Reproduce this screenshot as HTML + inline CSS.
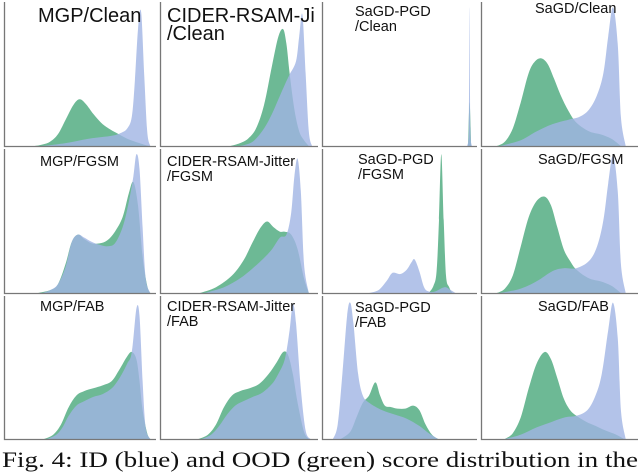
<!DOCTYPE html>
<html><head><meta charset="utf-8"><style>
html,body{margin:0;padding:0;background:#fff;width:640px;height:473px;overflow:hidden}
svg{display:block}
text{font-family:"Liberation Sans",Arial,sans-serif;fill:#111}
</style></head><body>
<svg id="chart" width="640" height="473" viewBox="0 0 640 473"></svg>
<script>
// Panel data: x = normalized score (0..1), y = normalized density (0..1)
const panelTitles = [["MGP/Clean"],["CIDER-RSAM-Ji","/Clean"],["SaGD-PGD","/Clean"],["SaGD/Clean"],
  ["MGP/FGSM"],["CIDER-RSAM-Jitter","/FGSM"],["SaGD-PGD","/FGSM"],["SaGD/FGSM"],
  ["MGP/FAB"],["CIDER-RSAM-Jitter","/FAB"],["SaGD-PGD","/FAB"],["SaGD/FAB"]];
const greenX = [
 [.2,.25,.3,.35,.4,.45,.49,.53,.58,.63,.68,.73,.8,.88,.94],
 [.44,.5,.55,.6,.65,.7,.74,.77,.79,.81,.84,.87,.9,.93],
 [.93,.94,.95],
 [.1,.15,.2,.25,.3,.34,.38,.42,.46,.5,.55,.6,.68,.75,.82,.88],
 [.22,.3,.35,.4,.44,.48,.52,.57,.62,.67,.72,.77,.81,.84,.87,.9,.93,.95],
 [.25,.35,.45,.52,.58,.63,.67,.71,.75,.78,.82,.86,.9,.93],
 [.68,.71,.73,.745,.76,.775,.79,.81,.83],
 [.1,.15,.2,.25,.3,.35,.4,.44,.48,.52,.56,.6,.68,.75,.82,.88],
 [.26,.32,.37,.42,.47,.52,.58,.64,.7,.75,.8,.83,.86,.88,.9,.93,.95],
 [.24,.3,.35,.4,.45,.5,.56,.62,.68,.73,.77,.8,.83,.86,.9,.93],
 [.12,.18,.22,.26,.3,.34,.37,.4,.44,.48,.53,.58,.62,.66,.7,.74],
 [.15,.2,.25,.3,.35,.4,.44,.48,.52,.56,.6,.66,.72,.78,.85,.9]];
const greenY = [
 [0,.01,.03,.08,.18,.28,.32,.29,.22,.16,.12,.09,.05,.02,0],
 [0,.02,.05,.12,.28,.55,.75,.8,.7,.5,.25,.1,.04,0],
 [0,.3,0],
 [0,.03,.12,.3,.5,.58,.6,.56,.46,.35,.24,.16,.1,.08,.05,0],
 [0,.02,.06,.2,.35,.4,.37,.34,.34,.36,.42,.52,.68,.76,.6,.25,.05,0],
 [0,.04,.12,.22,.35,.45,.49,.45,.42,.42,.4,.3,.1,0],
 [0,.05,.15,.5,.95,.5,.12,.04,0],
 [0,.03,.12,.32,.52,.63,.66,.6,.45,.3,.22,.16,.1,.08,.05,0],
 [0,.03,.1,.22,.3,.33,.35,.37,.4,.48,.57,.6,.55,.4,.2,.04,0],
 [0,.03,.1,.22,.3,.33,.35,.38,.45,.53,.6,.58,.45,.25,.05,0],
 [0,.05,.15,.25,.3,.39,.3,.23,.22,.21,.21,.23,.2,.1,.03,0],
 [0,.04,.15,.35,.52,.6,.55,.42,.28,.2,.16,.12,.09,.06,.03,0]];
const blueX = [
 [.25,.4,.55,.7,.76,.8,.83,.85,.87,.89,.91,.93,.95],
 [.5,.58,.65,.7,.74,.78,.81,.85,.87,.89,.91,.93,.95],
 [.925,.935,.94,.945,.955],
 [.12,.25,.35,.45,.55,.62,.68,.73,.77,.8,.83,.86,.88,.91],
 [.25,.3,.35,.4,.44,.48,.52,.57,.62,.67,.72,.77,.81,.84,.86,.88,.9,.92,.95],
 [.28,.4,.5,.58,.65,.7,.75,.79,.82,.84,.86,.88,.9,.93],
 [.3,.36,.41,.44,.46,.5,.54,.57,.59,.62,.65,.68,.72,.78,.82,.85],
 [.12,.25,.35,.45,.52,.6,.68,.73,.77,.8,.83,.86,.88,.91],
 [.28,.34,.38,.42,.47,.52,.58,.64,.7,.75,.8,.83,.86,.88,.9,.92,.95],
 [.26,.32,.37,.42,.47,.52,.58,.64,.7,.74,.78,.81,.83,.85,.88,.91,.94],
 [.07,.1,.13,.16,.18,.2,.23,.26,.3,.38,.46,.54,.62,.68,.74],
 [.15,.25,.35,.45,.53,.6,.67,.72,.76,.8,.83,.86,.88,.91]];
const blueY = [
 [0,.02,.05,.07,.09,.12,.2,.45,.8,.92,.5,.1,0],
 [0,.03,.12,.22,.32,.42,.49,.58,.75,.9,.5,.1,0],
 [0,.1,.95,.1,0],
 [0,.04,.1,.15,.18,.2,.25,.35,.5,.75,.95,.7,.2,0],
 [0,.02,.06,.18,.35,.4,.38,.35,.33,.32,.34,.45,.62,.8,.95,.85,.45,.1,0],
 [0,.04,.1,.17,.24,.3,.38,.4,.55,.8,.92,.7,.2,0],
 [0,.02,.08,.13,.14,.13,.16,.21,.23,.15,.04,.01,.01,.04,.02,0],
 [0,.03,.08,.15,.17,.17,.22,.32,.5,.75,.94,.7,.2,0],
 [0,.03,.08,.16,.23,.26,.29,.31,.35,.42,.52,.6,.9,.85,.4,.08,0],
 [0,.03,.09,.17,.23,.26,.29,.32,.38,.45,.55,.75,.93,.8,.35,.06,0],
 [0,.1,.45,.85,.94,.8,.45,.3,.25,.2,.17,.14,.09,.04,0],
 [0,.03,.08,.12,.15,.16,.2,.3,.45,.75,.94,.7,.2,0]];

const NS="http://www.w3.org/2000/svg";
const svg=document.getElementById('chart');
const colL=[4,160,322,481], colW=[154,160,157,159];
const rowT=[0,147,294], rowB=[146,293,439];
const titleBig=[true,true,false,false,false,false,false,false,false,false,false,false];
const titlePos=[[38,22],[167,22],[355,16],[535,13],[40,166],[167,166],[358,164],[538,164],[40,311],[167,311],[355,312],[538,311]];
function mk(tag,attrs){const e=document.createElementNS(NS,tag);for(const k in attrs)e.setAttribute(k,attrs[k]);return e;}
function smoothPath(pts){
  let d="M"+pts[0][0].toFixed(1)+","+pts[0][1].toFixed(1);
  for(let i=0;i<pts.length-1;i++){
    const p0=pts[Math.max(i-1,0)],p1=pts[i],p2=pts[i+1],p3=pts[Math.min(i+2,pts.length-1)];
    const c1x=p1[0]+(p2[0]-p0[0])/6,c1y=p1[1]+(p2[1]-p0[1])/6;
    const c2x=p2[0]-(p3[0]-p1[0])/6,c2y=p2[1]-(p3[1]-p1[1])/6;
    d+=" C"+c1x.toFixed(1)+","+Math.min(c1y,pts[0][1]).toFixed(1)+" "+c2x.toFixed(1)+","+Math.min(c2y,pts[0][1]).toFixed(1)+" "+p2[0].toFixed(1)+","+p2[1].toFixed(1);
  }
  return d+" Z";
}
for(let p=0;p<12;p++){
  const c=p%4,r=Math.floor(p/4);
  const L=colL[c],W=colW[c],T=rowT[r],B=rowB[r],H=B-T;
  const xs=v=>L+v*W, ys=v=>B-v*H;
  const g=mk('g',{});
  
  
  const gp=greenX[p].map((x,i)=>[xs(x),ys(greenY[p][i])]);
  const gpath=mk('path',{d:smoothPath(gp),fill:'#6db995'});
  
  
  g.appendChild(gpath);
  const bp=blueX[p].map((x,i)=>[xs(x),ys(blueY[p][i])]);
  const bpath=mk('path',{d:smoothPath(bp),fill:'rgb(160,180,228)','fill-opacity':'0.8'});
  
  
  g.appendChild(bpath);
  const ax=mk('path',{d:`M${L+0.5},${T+2} V${B+0.5} H${L+W-2}`,stroke:'#777','stroke-width':'1.3',fill:'none'});
  
  
  g.appendChild(ax);
  const fs=titleBig[p]?20:14.5, lh=titleBig[p]?18:15;
  panelTitles[p].forEach((t,i)=>{
    const tx=mk('text',{x:titlePos[p][0],y:titlePos[p][1]+i*lh,'font-size':fs});
    tx.textContent=t;
    
    
    g.appendChild(tx);
  });
  svg.appendChild(g);
}
const cap=mk('text',{x:2,y:467,'font-size':22,textLength:636,lengthAdjust:'spacingAndGlyphs',style:'font-family:"Liberation Serif",serif'});
cap.textContent="Fig. 4: ID (blue) and OOD (green) score distribution in the";


svg.appendChild(cap);
</script>
</body></html>
